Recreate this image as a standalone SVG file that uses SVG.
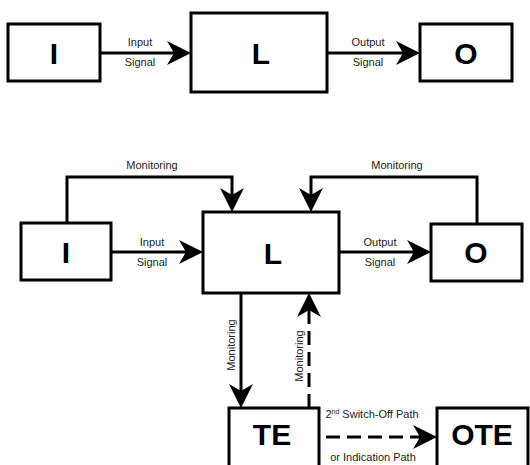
<svg xmlns="http://www.w3.org/2000/svg" width="530" height="465" viewBox="0 0 530 465">
<style>
.box{fill:#fff;stroke:#000;stroke-width:3}
.big{font-family:"Liberation Sans",Arial,sans-serif;font-weight:bold;font-size:30px;text-anchor:middle;fill:#000}
.lbl{font-family:"Liberation Sans",Arial,sans-serif;font-size:11px;text-anchor:middle;fill:#222}
.ln{fill:none;stroke:#000;stroke-width:3}
.dash{stroke-dasharray:14 7}
</style>
<defs>
<marker id="ah" viewBox="0 0 24 24" refX="7" refY="12" markerWidth="24" markerHeight="24" markerUnits="userSpaceOnUse" orient="auto">
<path d="M0,0 L24,12 L0,24 L7,12 Z" fill="#000"/>
</marker>
</defs>
<rect width="530" height="465" fill="#fff"/>
<g id="connectors">
<path class="ln" d="M100,53 H174" marker-end="url(#ah)"/>
<path class="ln" d="M327,53 H403" marker-end="url(#ah)"/>
<path class="ln" d="M111,252 H186" marker-end="url(#ah)"/>
<path class="ln" d="M339,252 H414" marker-end="url(#ah)"/>
<path class="ln" d="M67,223 V177 H232 V195" marker-end="url(#ah)"/>
<path class="ln" d="M477,224 V177 H311 V195" marker-end="url(#ah)"/>
<path class="ln" d="M241,293 V391" marker-end="url(#ah)"/>
<path class="ln dash" d="M309,408 V310" marker-end="url(#ah)"/>
<path class="ln dash" d="M326,437 H420" marker-end="url(#ah)"/>
<text class="lbl" x="140" y="46">Input</text>
<text class="lbl" x="140" y="66">Signal</text>
<text class="lbl" x="368" y="46">Output</text>
<text class="lbl" x="368" y="66">Signal</text>
<text class="lbl" x="152" y="246">Input</text>
<text class="lbl" x="152" y="266">Signal</text>
<text class="lbl" x="380" y="246">Output</text>
<text class="lbl" x="380" y="266">Signal</text>
<text class="lbl" x="152" y="169">Monitoring</text>
<text class="lbl" x="397" y="169">Monitoring</text>
<text class="lbl" transform="translate(235,345) rotate(-90)">Monitoring</text>
<text class="lbl" transform="translate(303,356) rotate(-90)">Monitoring</text>
<text class="lbl" x="372" y="418">2<tspan font-size="7" dy="-4">nd</tspan><tspan dy="4"> Switch-Off Path</tspan></text>
<text class="lbl" x="373" y="461">or Indication Path</text>
</g>
<g id="I1"><rect class="box" x="8" y="24" width="92" height="57"/><text class="big" x="54" y="64">I</text></g>
<g id="L1"><rect class="box" x="191" y="13" width="136" height="79"/><text class="big" x="261" y="64">L</text></g>
<g id="O1"><rect class="box" x="420" y="24" width="92" height="57"/><text class="big" x="466" y="64">O</text></g>
<g id="I2"><rect class="box" x="21" y="223" width="90" height="57"/><text class="big" x="66" y="263">I</text></g>
<g id="L2"><rect class="box" x="203" y="212" width="136" height="81"/><text class="big" x="273" y="264">L</text></g>
<g id="O2"><rect class="box" x="431" y="224" width="91" height="57"/><text class="big" x="476" y="263">O</text></g>
<g id="TE"><rect class="box" x="229" y="408" width="90" height="62"/><text class="big" x="272" y="445">TE</text></g>
<g id="OTE"><rect class="box" x="437" y="408" width="91" height="62"/><text class="big" x="482" y="445">OTE</text></g>
</svg>
